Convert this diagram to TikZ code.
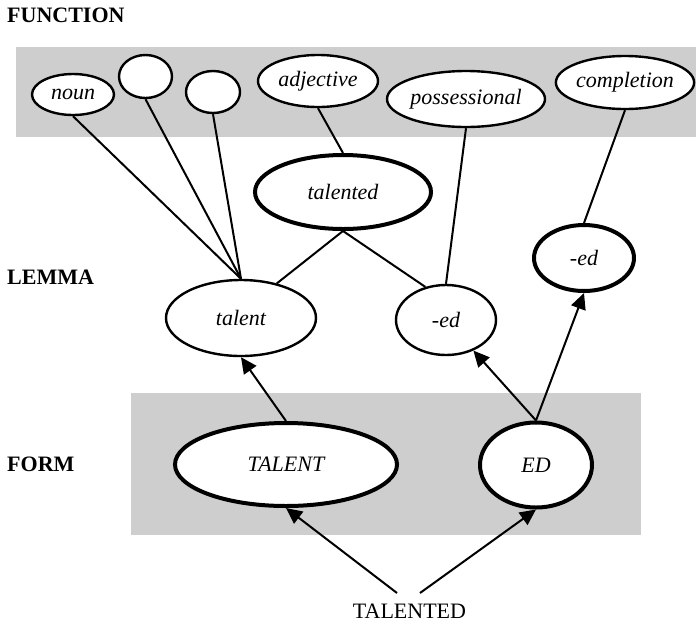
\documentclass[tikz,border=0pt]{standalone}
\usepackage{fontspec}
\setmainfont{Liberation Serif}
\usetikzlibrary{arrows.meta,shapes.geometric}
\definecolor{bandgray}{RGB}{207,206,207}

\begin{document}
\begin{tikzpicture}[
  x=1pt, y=-1pt,
  every node/.style={font=\fontsize{22}{26}\selectfont},
  lvl/.style={font=\fontsize{22}{26}\selectfont\bfseries, anchor=west, inner sep=0pt},
  oval/.style={ellipse, draw, fill=white, line width=2.4pt, inner sep=0pt, font=\fontsize{22}{26}\selectfont\itshape},
  bigoval/.style={oval, line width=4pt},
  band/.style={fill=bandgray},
  link/.style={line width=2pt},
  arr/.style={-{Triangle[length=16pt,width=15pt]}, line width=2pt}
]
\useasboundingbox (0,0) rectangle (696,625);

% grey bands
\fill[band] (16,47) rectangle (696,137);
\fill[band] (131,393) rectangle (641,535);

% level labels
\node[lvl] (fn) at (7,15) {FUNCTION};
\node[lvl] (lm) at (7,277) {LEMMA};
\node[lvl] (fm) at (7,464) {FORM};

% function level
\node[oval, minimum width=82pt, minimum height=41pt] (noun) at (73,94.5) {noun};
\node[oval, minimum width=53pt, minimum height=43pt] (blanka) at (145.5,76.5) {};
\node[oval, minimum width=54pt, minimum height=42pt] (blankb) at (213,92) {};
\node[oval, minimum width=120pt, minimum height=52pt] (adjective) at (318,81) {adjective};
\node[oval, minimum width=158pt, minimum height=56pt] (possessional) at (466,99) {possessional};
\node[oval, minimum width=138pt, minimum height=53pt] (completion) at (625,82.5) {completion};

% lemma level
\node[bigoval, minimum width=176pt, minimum height=74pt] (talented) at (343,192) {talented};
\node[oval, minimum width=150pt, minimum height=76pt] (talent) at (241,318) {talent};
\node[oval, minimum width=100pt, minimum height=70pt] (edm) at (446,320) {-ed};
\node[bigoval, minimum width=100pt, minimum height=66pt] (edr) at (584,258) {-ed};

% form level
\node[bigoval, minimum width=222pt, minimum height=83pt] (formtalent) at (286,464.5) {TALENT};
\node[bigoval, minimum width=112pt, minimum height=85pt] (formed) at (536,465) {ED};

% input word
\node[inner sep=0pt] (word) at (409.5,611.5) {TALENTED};
\coordinate (wl) at (397,593);
\coordinate (wr) at (420,593);

\draw[link] (noun.south) -- (talent.north);
\draw[link] (blanka.south) -- (talent.north);
\draw[link] (blankb.south) -- (talent.north);
\draw[link] (adjective.south) -- (talented.north);
\draw[link] (talented.south) -- (talent.44);
\draw[link] (talented.south) -- (edm.122);
\draw[link] (possessional.south) -- (edm.north);
\draw[link] (completion.south) -- (edr.north);

\draw[arr] (formtalent.north) -- (talent.south);
\draw[arr] (formed.north) -- (edm);
\draw[arr] (formed.north) -- (edr.south);
\draw[arr] (wl) -- (formtalent.south);
\draw[arr] (wr) -- (formed.south);
\end{tikzpicture}
\end{document}
